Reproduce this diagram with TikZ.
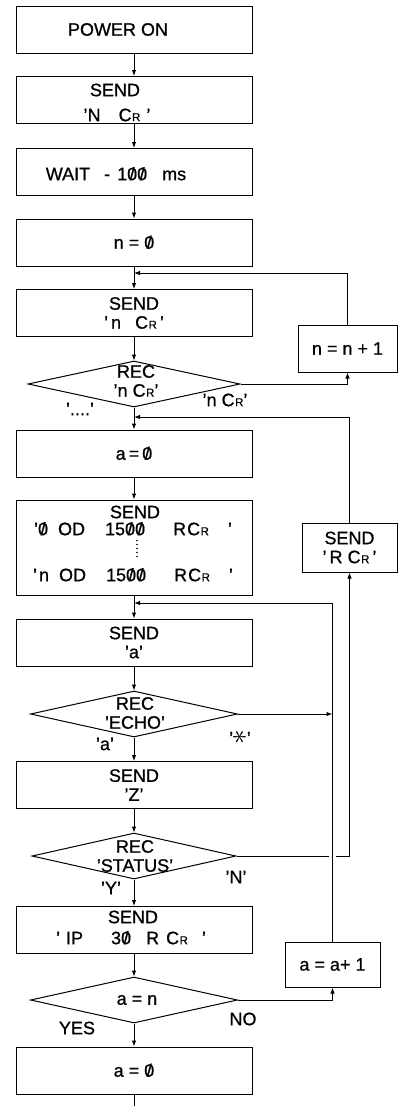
\documentclass[tikz,border=0pt]{standalone}
\usepackage{fontspec}
\setmainfont{Liberation Sans}[FakeBold=0.8]
\usepackage{graphicx}
\usetikzlibrary{shapes.geometric,arrows.meta}
\newcommand\CRr{C\kern0.5pt{\fontsize{11.5}{11.5}\selectfont R}}
\newcommand\zs{\ooalign{0\cr\hidewidth/\hidewidth\cr}}
\begin{document}
\begin{tikzpicture}[x=1pt,y=-1pt,
  every node/.style={font=\fontsize{18}{19}\selectfont, inner sep=0pt},
  box/.style={draw, line width=1pt, minimum width=236pt, minimum height=47pt, align=center},
  rbox/.style={draw, line width=1pt, minimum width=95pt, minimum height=47pt, align=center},
  dia/.style={draw, diamond, line width=1pt, minimum width=207pt, minimum height=46pt},
  txt/.style={align=center},
  lab/.style={},
  ln/.style={line width=1pt},
  arr/.style={line width=1pt, -{Latex[length=6pt,width=4.5pt]}},
]
\useasboundingbox (0,0) rectangle (398,1106);

% main column
\node[box] (b1) at (134,29.5) {};
\node[txt] (t1) at (118,29.5) {POWER ON};
\node[box] (b2) at (134,100) {};
\node[txt] (t2a) at (115,90) {SEND};
\node[txt] (t2b) at (117,115) {'N\hspace{18pt}\CRr\hspace{6pt}'};
\node[box] (b3) at (134,172) {};
\node[txt] (t3) at (116,174) {WAIT\hspace{14pt}-\hspace{7pt}1\zs\zs\hspace{15pt}ms};
\node[box] (b4) at (134,242.5) {n = \zs};
\node[box] (b5) at (134,313) {SEND\\'\,n\hspace{14pt}\CRr\,'};
\node[dia, minimum width=212pt] (d1) at (134,384) {};
\node[txt] (dt1) at (136,381) {REC\\'n \CRr'};
\node[box] (b6) at (134,453.5) {a\,=\,\zs};
\node[box, minimum height=95pt] (b7) at (134,547.5) {};
\node[txt] (t7s) at (135,512) {SEND};
\node[txt] (t7a) at (133,529) {'\zs\hspace{10pt}OD\hspace{20pt}15\zs\zs\hspace{28pt}R\hspace{1pt}\CRr\hspace{19pt}'};
\node[txt] (t7b) at (133,575) {'\kern2pt n\hspace{10pt}OD\hspace{20pt}15\zs\zs\hspace{28pt}R\hspace{1pt}\CRr\hspace{19pt}'};
\draw[line width=1.8pt, line cap=round, dash pattern=on 0pt off 4pt] (t7a.south -| t7s) ++(2,5) -- ++(0,16);
\node[box] (b8) at (134,642.5) {SEND\\'a'};
\node[dia] (d2) at (134,714) {};
\node[txt] (dt2) at (135,713) {REC\\'ECHO'};
\node[box] (b9) at (134,785) {SEND\\'Z'};
\node[dia, minimum width=204pt] (d3) at (134,856) {};
\node[txt] (dt3) at (135,856) {REC\\'STATUS'};
\node[box] (b10) at (134,930) {};
\node[txt] (t10a) at (133,917) {SEND};
\node[txt] (t10b) at (131,938) {'\hspace{6pt}IP\hspace{28pt}3\zs\hspace{15pt}R\hspace{7pt}\CRr\hspace{14pt}'};
\node[dia] (d4) at (134,1000) {};
\node[txt] (dt4) at (137,1000) {a = n};
\node[box] (b11) at (134,1070.5) {a = \zs};

% right column
\node[rbox, minimum width=99pt] (r1) at (347.5,348.5) {n = n + 1};
\node[rbox, minimum height=49pt] (r2) at (349.5,547.5) {SEND\\'\,R \CRr\,'};
\node[rbox, minimum height=45pt] (r3) at (332.5,964.5) {a = a+ 1};

% labels
\node[lab] (l1) at (225,400) {'n \CRr'};
\node[lab] (l2) at (80,409) {'....'};
\node[lab] (l3) at (105,744) {'a'};
\node[lab] (l4) at (240,737) {'\rotatebox{90}{\scalebox{1.7}{$\ast$}}'};
\node[lab] (l5) at (111,888) {'Y'};
\node[lab] (l6) at (236,877) {'N'};
\node[lab] (l7) at (77,1028) {YES};
\node[lab] (l8) at (243,1019) {NO};

% join points
\coordinate (m1) at (134,273);
\coordinate (m2) at (134,417);
\coordinate (m3) at (134,603);
\coordinate (j1) at (332.5,714);
\coordinate (e) at (134,1106);

% crossing: N line drawn first, then the a+1 loop with a white gap
\draw[arr] (d3.east) -| (r2.south);
\draw[arr, preaction={draw=white, line width=7pt, -}] (r3.north) |- (m3);

% main flow
\draw[arr] (b1) -- (b2);
\draw[arr] (b2) -- (b3);
\draw[arr] (b3) -- (b4);
\draw[arr] (b4) -- (b5);
\draw[arr] (b5) -- (d1);
\draw[arr] (d1) -- (b6);
\draw[arr] (b6) -- (b7);
\draw[arr] (b7) -- (b8);
\draw[arr] (b8) -- (d2);
\draw[arr] (d2) -- (b9);
\draw[arr] (b9) -- (d3);
\draw[arr] (d3) -- (b10);
\draw[arr] (b10) -- (d4);
\draw[arr] (d4) -- (b11);
\draw[ln] (b11) -- (e);

% loops
\draw[arr] (d1.east) -| (r1.south);
\draw[arr] (r1.north) |- (m1);
\draw[arr] (r2.north) |- (m2);
\draw[arr] (d2.east) -- (j1);
\draw[arr] (d4.east) -| (r3.south);
\end{tikzpicture}
\end{document}
